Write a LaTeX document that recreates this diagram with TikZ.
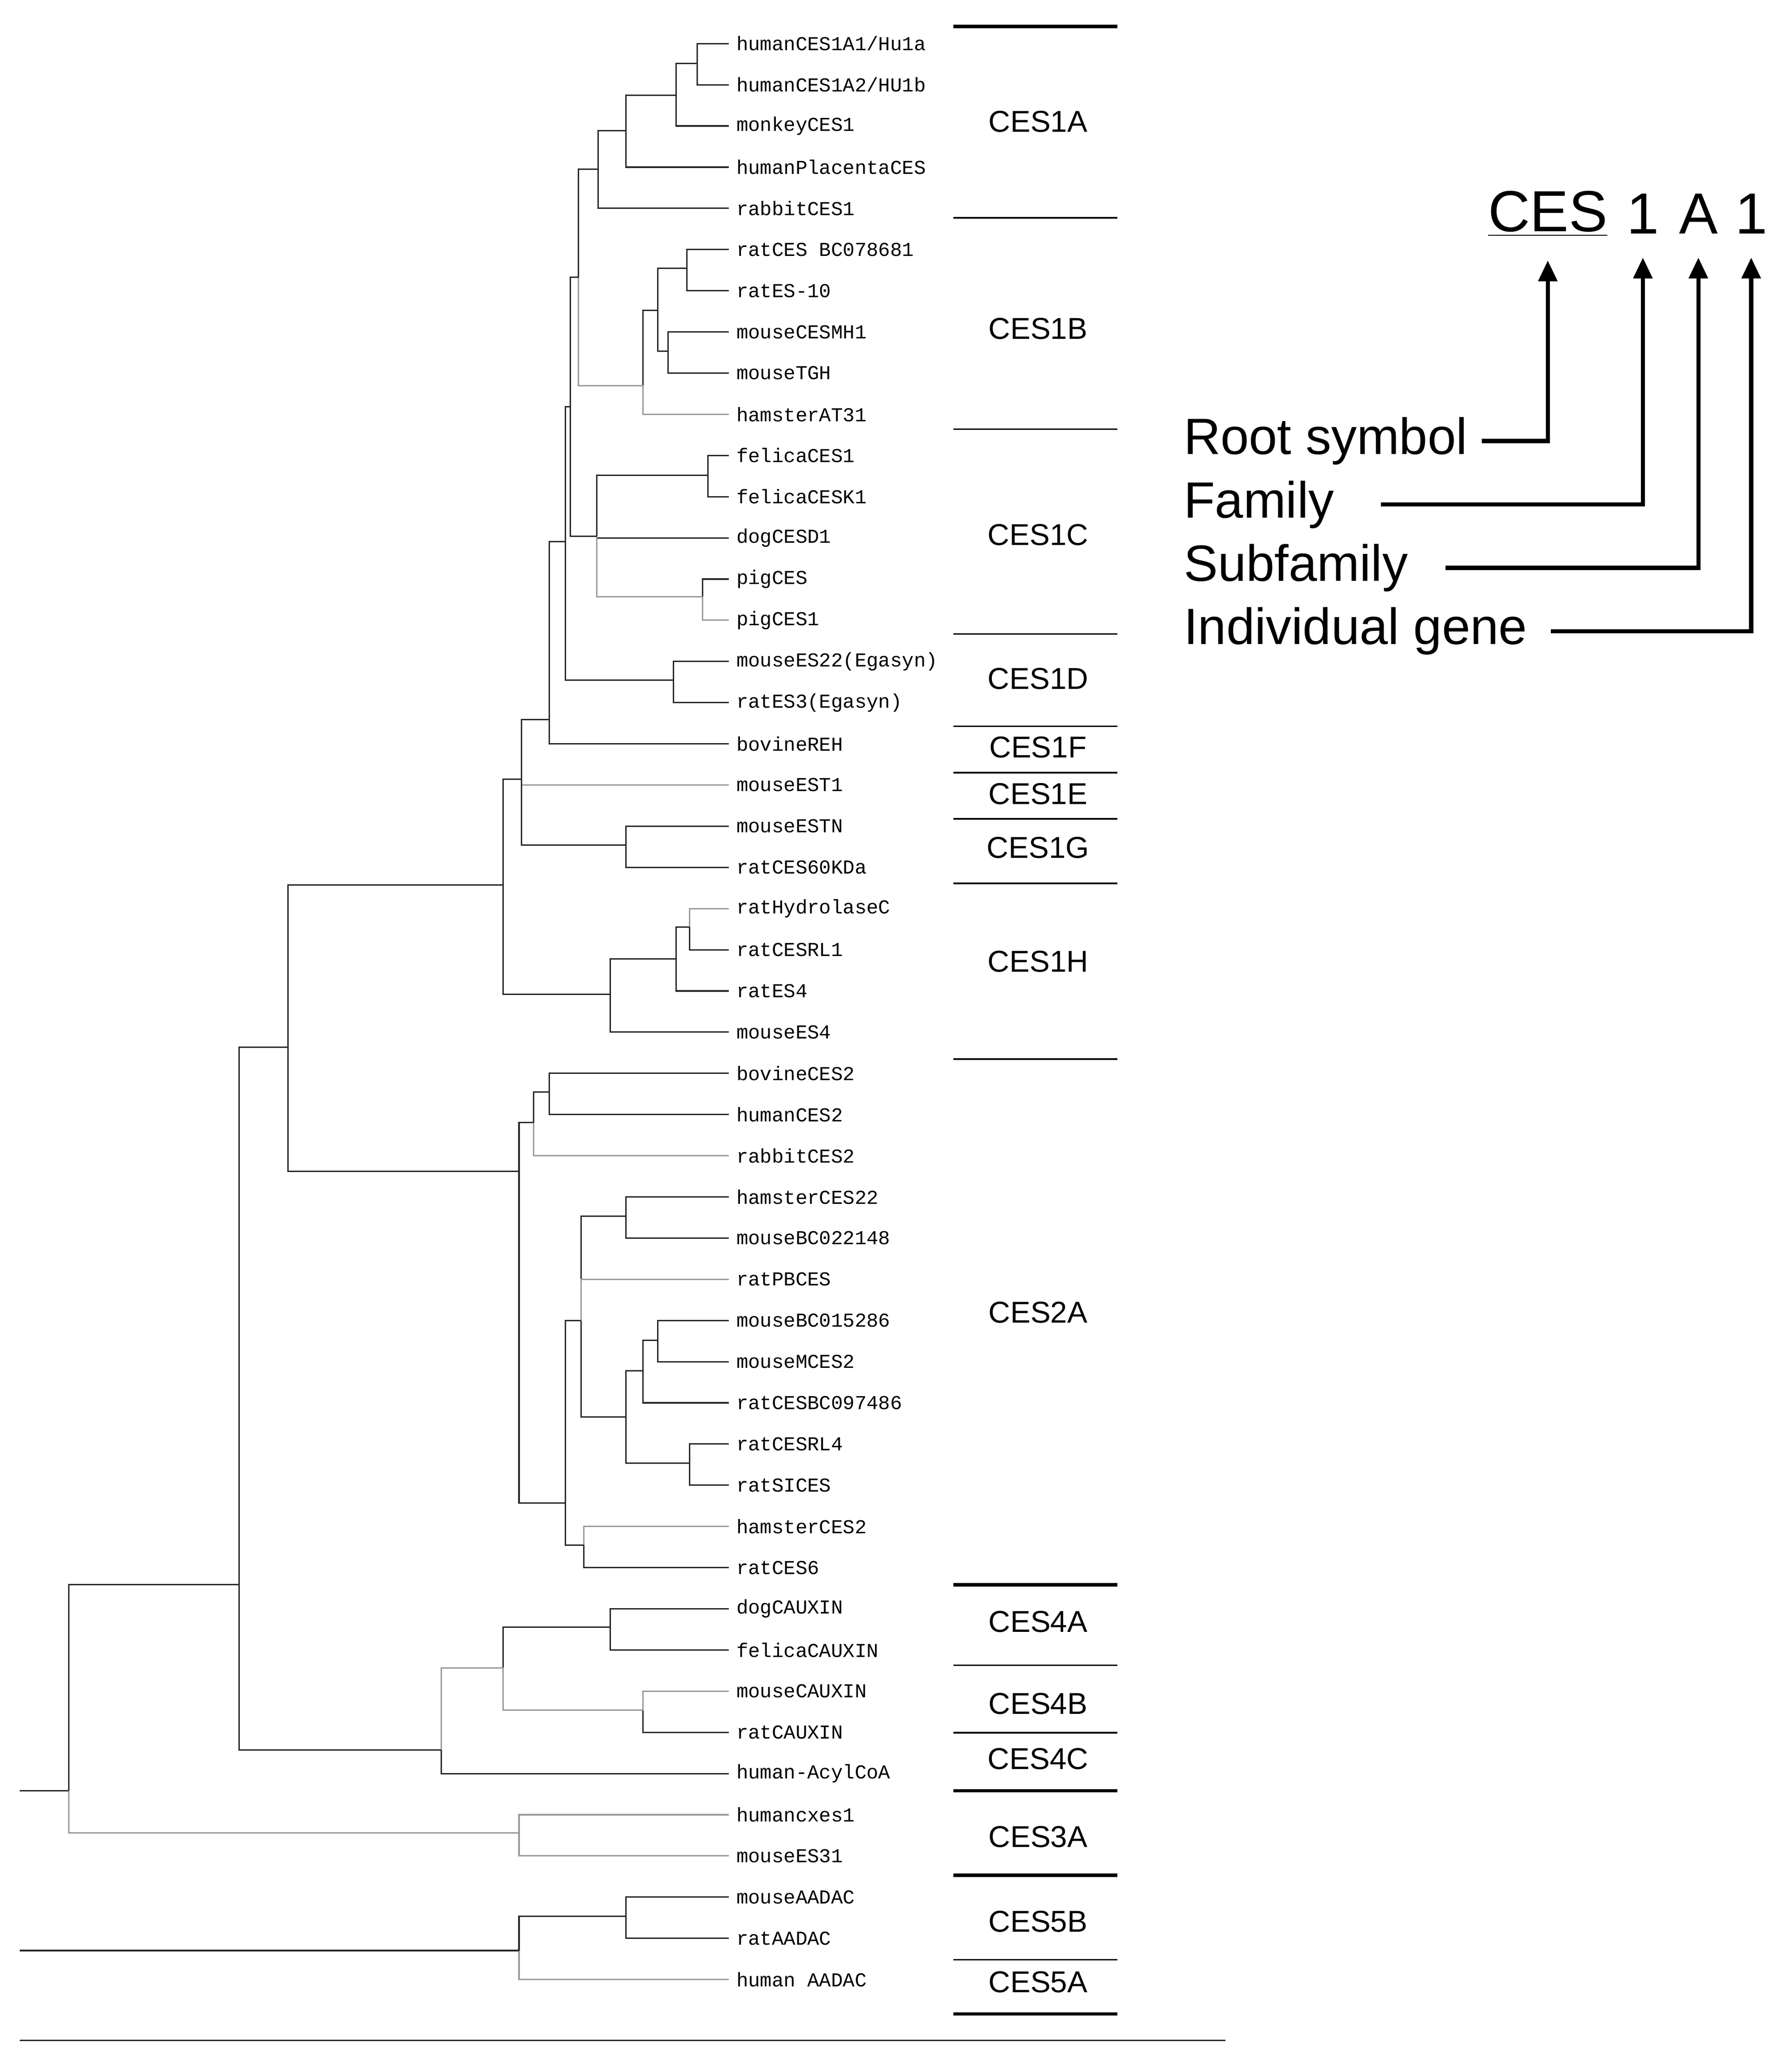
\documentclass[tikz,border=0pt]{standalone}
\usepackage{fontspec}
\setmainfont{Liberation Sans}
\newfontfamily\leaffont{Liberation Mono}
\usetikzlibrary{arrows.meta}

\tikzset{
  leaf/.style={anchor=west, inner xsep=3pt, inner ysep=0pt, font=\leaffont\fontsize{8.5}{9}\selectfont},
  br/.style={line width=0.6pt, black!85},
  gb/.style={line width=0.6pt, black!40},
  grp/.style={font=\fontsize{13}{14}\selectfont},
  sep/.style={line width=0.7pt},
  thk/.style={line width=1.5pt},
  big/.style={font=\fontsize{25}{28}\selectfont, inner sep=0pt},
  part/.style={font=\fontsize{22}{24}\selectfont, anchor=west, inner sep=0pt},
  pt/.style={line width=1.8pt, -{Triangle[length=9pt,width=8pt]}}
}

\begin{document}
\begin{tikzpicture}[x=0.02cm, y=-0.02cm]
    \useasboundingbox (0,0) rectangle (1350,1569);

    % leaves
    \foreach \t [count=\i] in {humanCES1A1/Hu1a, humanCES1A2/HU1b, monkeyCES1,
      humanPlacentaCES, rabbitCES1, ratCES BC078681, ratES-10, mouseCESMH1,
      mouseTGH, hamsterAT31, felicaCES1, felicaCESK1, dogCESD1, pigCES, pigCES1,
      mouseES22(Egasyn), ratES3(Egasyn), bovineREH, mouseEST1, mouseESTN,
      ratCES60KDa, ratHydrolaseC, ratCESRL1, ratES4, mouseES4, bovineCES2,
      humanCES2, rabbitCES2, hamsterCES22, mouseBC022148, ratPBCES,
      mouseBC015286, mouseMCES2, ratCESBC097486, ratCESRL4, ratSICES,
      hamsterCES2, ratCES6, dogCAUXIN, felicaCAUXIN, mouseCAUXIN, ratCAUXIN,
      human-AcylCoA, humancxes1, mouseES31, mouseAADAC, ratAADAC, human AADAC}
    \node[leaf] (l\i) at (552, {33+31.19*(\i-1)}) {\t};

    % inner nodes
    \coordinate (a1) at (528, 48);   \coordinate (a2) at (512, 72);
    \coordinate (a3) at (474, 99);   \coordinate (a4) at (453, 128);
    \coordinate (b1) at (520, 203);  \coordinate (b2) at (506, 266);
    \coordinate (b3) at (498, 235);  \coordinate (b4) at (487, 292);
    \coordinate (ab) at (438, 210);
    \coordinate (c1) at (536, 360);  \coordinate (c2) at (532, 452);
    \coordinate (c3) at (452, 406);  \coordinate (abc) at (432, 308);
    \coordinate (d1) at (510, 515);  \coordinate (abcd) at (428, 410);
    \coordinate (e1) at (416, 545);  \coordinate (g1) at (474, 640);
    \coordinate (e2) at (395, 590);
    \coordinate (h1) at (522, 702);  \coordinate (h2) at (512, 726);
    \coordinate (h3) at (462, 753);  \coordinate (one) at (381, 670);
    \coordinate (f1) at (416, 827);  \coordinate (f2) at (404, 850);
    \coordinate (f3) at (474, 921);  \coordinate (f4) at (498, 1015);
    \coordinate (f5) at (487, 1038); \coordinate (f6) at (522, 1108);
    \coordinate (f7) at (474, 1073); \coordinate (f8) at (440, 1000);
    \coordinate (f9) at (442, 1170); \coordinate (f10) at (428, 1138);
    \coordinate (two) at (393, 887); \coordinate (onetwo) at (218, 793);
    \coordinate (k1) at (462, 1232); \coordinate (k2) at (487, 1295);
    \coordinate (k3) at (381, 1263); \coordinate (k4) at (334, 1325);
    \coordinate (m1) at (181, 1200); \coordinate (n1) at (393, 1388);
    \coordinate (r1) at (52, 1356);  \coordinate (rt1) at (15, 1356);
    \coordinate (p1) at (474, 1451); \coordinate (p2) at (393, 1477);
    \coordinate (rt2) at (15, 1477);

    % branches
    \draw[br] (a1) |- (l1.west); \draw[br] (a1) |- (l2.west);
    \draw[br] (a2) |- (a1); \draw[br] (a2) |- (l3.west);
    \draw[br] (a3) |- (a2); \draw[br] (a3) |- (l4.west);
    \draw[br] (a4) |- (a3); \draw[br] (a4) |- (l5.west);
    \draw[br] (b1) |- (l6.west); \draw[br] (b1) |- (l7.west);
    \draw[br] (b2) |- (l8.west); \draw[br] (b2) |- (l9.west);
    \draw[br] (b3) |- (b1); \draw[br] (b3) |- (b2);
    \draw[br] (b4) |- (b3); \draw[gb] (b4) |- (l10.west);
    \draw[br] (ab) |- (a4); \draw[gb] (ab) |- (b4);
    \draw[br] (c1) |- (l11.west); \draw[br] (c1) |- (l12.west);
    \draw[br] (c2) |- (l14.west); \draw[gb] (c2) |- (l15.west);
    \draw[br] (c3) |- (c1); \draw[br] (c3) |- (l13.west); \draw[gb] (c3) |- (c2);
    \draw[br] (abc) |- (ab); \draw[br] (abc) |- (c3);
    \draw[br] (d1) |- (l16.west); \draw[br] (d1) |- (l17.west);
    \draw[br] (abcd) |- (abc); \draw[br] (abcd) |- (d1);
    \draw[br] (e1) |- (abcd); \draw[br] (e1) |- (l18.west);
    \draw[br] (g1) |- (l20.west); \draw[br] (g1) |- (l21.west);
    \draw[br] (e2) |- (e1); \draw[gb] (e2) |- (l19.west); \draw[br] (e2) |- (g1);
    \draw[gb] (h1) |- (l22.west); \draw[br] (h1) |- (l23.west);
    \draw[br] (h2) |- (h1); \draw[br] (h2) |- (l24.west);
    \draw[br] (h3) |- (h2); \draw[br] (h3) |- (l25.west);
    \draw[br] (one) |- (e2); \draw[br] (one) |- (h3);
    \draw[br] (f1) |- (l26.west); \draw[br] (f1) |- (l27.west);
    \draw[br] (f2) |- (f1); \draw[gb] (f2) |- (l28.west);
    \draw[br] (f3) |- (l29.west); \draw[br] (f3) |- (l30.west);
    \draw[br] (f4) |- (l32.west); \draw[br] (f4) |- (l33.west);
    \draw[br] (f5) |- (f4); \draw[br] (f5) |- (l34.west);
    \draw[br] (f6) |- (l35.west); \draw[br] (f6) |- (l36.west);
    \draw[br] (f7) |- (f5); \draw[br] (f7) |- (f6);
    \draw[br] (f8) |- (f3); \draw[gb] (f8) |- (l31.west); \draw[br] (f8) |- (f7);
    \draw[gb] (f9) |- (l37.west); \draw[br] (f9) |- (l38.west);
    \draw[br] (f10) |- (f8); \draw[br] (f10) |- (f9);
    \draw[br] (two) |- (f2); \draw[br] (two) |- (f10);
    \draw[br] (onetwo) |- (one); \draw[br] (onetwo) |- (two);
    \draw[br] (k1) |- (l39.west); \draw[br] (k1) |- (l40.west);
    \draw[gb] (k2) |- (l41.west); \draw[br] (k2) |- (l42.west);
    \draw[br] (k3) |- (k1); \draw[gb] (k3) |- (k2);
    \draw[gb] (k4) |- (k3); \draw[br] (k4) |- (l43.west);
    \draw[br] (m1) |- (onetwo); \draw[br] (m1) |- (k4);
    \draw[gb] (n1) |- (l44.west); \draw[gb] (n1) |- (l45.west);
    \draw[br] (r1) |- (m1); \draw[gb] (r1) |- (n1);
    \draw[br] (rt1) -- (r1);
    \draw[br] (p1) |- (l46.west); \draw[br] (p1) |- (l47.west);
    \draw[br] (p2) |- (p1); \draw[gb] (p2) |- (l48.west);
    \draw[br] (rt2) -- (p2);
    \draw[br] (15,1545) -- (928,1545);

    % group bars and labels
    \foreach \y/\s in {20/thk, 165/sep, 325/sep, 480/sep, 550/sep, 585/sep,
      620/sep, 669/sep, 802/sep, 1200/thk, 1261/sep, 1312/sep, 1356/thk,
      1420/thk, 1484/sep, 1525/thk}
    \draw[\s] (722,\y) -- (846,\y);
    \foreach \y/\t in {92/CES1A, 249/CES1B, 405/CES1C, 514/CES1D, 566/CES1F,
      601/CES1E, 642/CES1G, 728/CES1H, 994/CES2A, 1228/CES4A, 1290/CES4B,
      1332/CES4C, 1391/CES3A, 1455/CES5B, 1501/CES5A}
    \node[grp] at (786,\y) {\t};

    % naming key
    \node[big] (root) at (1172,162) {\underline{CES}};
    \node[big] (fam) at (1244,162) {1};
    \node[big] (sub) at (1286,162) {A};
    \node[big] (gene) at (1326,162) {1};
    \node[part] (proot) at (896,334) {Root symbol};
    \node[part] (pfam) at (896,382) {Family};
    \node[part] (psub) at (896,430) {Subfamily};
    \node[part] (pgene) at (896,478) {Individual gene};
    \draw[pt] ([xshift=6pt]proot.east) -| ([yshift=-10pt]root.south);
    \draw[pt] ([xshift=20pt]pfam.east) -| ([yshift=-10pt]fam.south);
    \draw[pt] ([xshift=16pt]psub.east) -| ([yshift=-10pt]sub.south);
    \draw[pt] ([xshift=10pt]pgene.east) -| ([yshift=-10pt]gene.south);
\end{tikzpicture}
\end{document}
